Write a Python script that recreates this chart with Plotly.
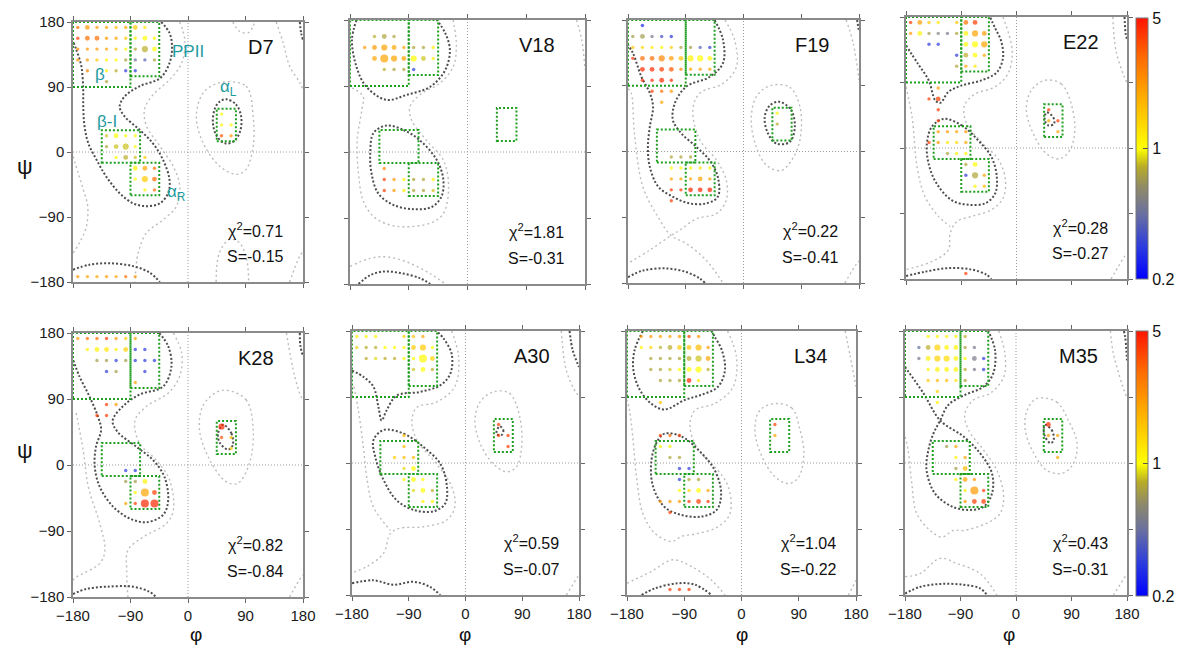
import math
import plotly.graph_objects as go

# ---------------- data ----------------
panel_names = ["D7", "V18", "F19", "E22", "K28", "A30", "L34", "M35"]
chi2_values = [0.71, 1.81, 0.22, 0.28, 0.82, 0.59, 1.04, 0.43]
s_values = [-0.15, -0.31, -0.41, -0.27, -0.84, -0.07, -0.22, -0.31]
angle_ticks = [-180, -90, 0, 90, 180]
cbar_labelled = [0.2, 1, 5]
cbar_minor = [0.3, 0.4, 0.5, 0.6, 0.7, 0.8, 0.9, 2, 3, 4]

# region boxes (phi_min, phi_max, psi_min, psi_max)
region_boxes = [(-180, -90, 90, 180), (-90, -45, 105, 180), (-135, -75, -15, 30),
                (-90, -45, -60, -15), (45, 75, 15, 60)]
region_labels = [("β", -138, 107), ("PPII", 0, 139), ("α<sub>L</sub>", 63, 89),
                 ("β-I", -127, 42), ("α<sub>R</sub>", -18, -57)]

# points: (phi, psi, ratio, size class)
D7_points = [
    (-172.5, 172.5, 3.0, 1), (-157.5, 172.5, 2.2, 2), (-142.5, 172.5, 2.2, 1), (-127.5, 172.5, 2.0, 1),
    (-112.5, 172.5, 1.7, 1), (-97.5, 172.5, 2.0, 1), (-82.5, 172.5, 1.5, 2), (-67.5, 172.5, 1.2, 1),
    (-172.5, 157.5, 4.0, 1), (-157.5, 157.5, 3.0, 2), (-142.5, 157.5, 3.0, 2), (-127.5, 157.5, 2.2, 1),
    (-112.5, 157.5, 2.0, 1), (-97.5, 157.5, 1.5, 1), (-82.5, 157.5, 1.1, 1), (-67.5, 157.5, 1.0, 2),
    (-52.5, 157.5, 1.0, 1),
    (-172.5, 142.5, 2.5, 1), (-157.5, 142.5, 2.2, 1), (-142.5, 142.5, 2.2, 1), (-127.5, 142.5, 2.0, 1),
    (-112.5, 142.5, 1.6, 1), (-97.5, 142.5, 1.1, 1), (-82.5, 142.5, 0.75, 1), (-67.5, 142.5, 0.8, 3),
    (-52.5, 142.5, 1.0, 2),
    (-172.5, 127.5, 2.2, 1), (-157.5, 127.5, 2.2, 1), (-142.5, 127.5, 1.5, 1), (-127.5, 127.5, 1.1, 1),
    (-112.5, 127.5, 1.0, 1), (-97.5, 127.5, 0.75, 1), (-82.5, 127.5, 0.45, 1), (-67.5, 127.5, 0.4, 1),
    (-52.5, 127.5, 0.75, 1),
    (-157.5, 112.5, 2.5, 1), (-127.5, 112.5, 1.1, 1), (-112.5, 112.5, 0.8, 1), (-97.5, 112.5, 0.3, 1),
    (-82.5, 112.5, 0.3, 1), (-127.5, 97.5, 0.75, 1),
    (-127.5, 22.5, 0.85, 1), (-112.5, 22.5, 1.0, 2), (-97.5, 22.5, 1.0, 1), (-82.5, 22.5, 1.0, 1),
    (-127.5, 7.5, 0.75, 1), (-112.5, 7.5, 0.85, 2), (-97.5, 7.5, 0.85, 3), (-82.5, 7.5, 1.0, 1),
    (-112.5, -7.5, 1.0, 1), (-97.5, -7.5, 0.8, 2), (-82.5, -7.5, 0.85, 1), (-67.5, -7.5, 1.5, 1),
    (-82.5, -22.5, 1.1, 2), (-67.5, -22.5, 2.0, 2), (-52.5, -22.5, 3.0, 1),
    (-82.5, -37.5, 1.0, 1), (-67.5, -37.5, 1.5, 3), (-52.5, -37.5, 3.0, 2),
    (-67.5, -52.5, 1.1, 1), (-52.5, -52.5, 3.0, 1),
    (52.5, 52.5, 1.0, 1), (52.5, 37.5, 1.1, 1), (67.5, 37.5, 1.1, 1), (52.5, 22.5, 3.5, 1), (67.5, 22.5, 2.2, 1),
    (-172.5, -172.5, 2.2, 1), (-157.5, -172.5, 2.0, 1), (-142.5, -172.5, 2.0, 1), (-127.5, -172.5, 2.2, 1),
    (-112.5, -172.5, 2.0, 1), (-97.5, -172.5, 3.0, 1), (-82.5, -172.5, 2.2, 1),
]
V18_points = [
    (-142.5, 157.5, 0.8, 1), (-127.5, 157.5, 0.75, 2), (-112.5, 157.5, 0.75, 1),
    (-157.5, 142.5, 2.2, 1), (-142.5, 142.5, 2.2, 2), (-127.5, 142.5, 2.0, 3), (-112.5, 142.5, 2.0, 2),
    (-97.5, 142.5, 2.0, 1), (-82.5, 142.5, 0.75, 1), (-67.5, 142.5, 0.75, 1), (-52.5, 142.5, 1.1, 1),
    (-142.5, 127.5, 2.0, 2), (-127.5, 127.5, 2.0, 4), (-112.5, 127.5, 2.0, 3), (-97.5, 127.5, 2.0, 2),
    (-82.5, 127.5, 1.0, 3), (-67.5, 127.5, 0.85, 2), (-52.5, 127.5, 1.1, 1),
    (-127.5, 112.5, 0.8, 1), (-112.5, 112.5, 0.75, 1), (-97.5, 112.5, 0.75, 1), (-82.5, 112.5, 0.3, 1),
    (-127.5, -22.5, 2.5, 1),
    (-127.5, -37.5, 4.0, 1), (-112.5, -37.5, 2.2, 1), (-97.5, -37.5, 1.1, 1), (-82.5, -37.5, 0.75, 1),
    (-67.5, -37.5, 0.75, 1), (-52.5, -37.5, 1.1, 1),
    (-127.5, -52.5, 4.0, 1), (-112.5, -52.5, 2.2, 1), (-97.5, -52.5, 1.2, 1), (-82.5, -52.5, 0.75, 1),
    (-67.5, -52.5, 0.75, 1), (-52.5, -52.5, 0.85, 1),
]
F19_points = [
    (-157.5, 172.5, 0.25, 1),
    (-172.5, 157.5, 0.7, 1), (-157.5, 157.5, 0.7, 2), (-142.5, 157.5, 0.5, 1), (-127.5, 157.5, 0.35, 1),
    (-112.5, 157.5, 0.28, 1),
    (-172.5, 142.5, 1.6, 1), (-157.5, 142.5, 1.4, 1), (-142.5, 142.5, 1.2, 1), (-127.5, 142.5, 1.1, 1),
    (-112.5, 142.5, 1.5, 1), (-97.5, 142.5, 0.75, 1), (-82.5, 142.5, 0.7, 1), (-67.5, 142.5, 0.4, 1),
    (-52.5, 142.5, 0.3, 1),
    (-172.5, 127.5, 4.0, 1), (-157.5, 127.5, 3.0, 2), (-142.5, 127.5, 3.0, 2), (-127.5, 127.5, 2.5, 3),
    (-112.5, 127.5, 2.2, 2), (-97.5, 127.5, 1.6, 2), (-82.5, 127.5, 1.1, 3), (-67.5, 127.5, 1.0, 3),
    (-52.5, 127.5, 1.1, 2),
    (-157.5, 112.5, 4.5, 2), (-142.5, 112.5, 4.5, 2), (-127.5, 112.5, 4.0, 2), (-112.5, 112.5, 3.5, 2),
    (-97.5, 112.5, 2.5, 1), (-82.5, 112.5, 2.0, 1), (-67.5, 112.5, 2.0, 1), (-52.5, 112.5, 2.0, 1),
    (-157.5, 97.5, 4.5, 1), (-142.5, 97.5, 4.5, 1), (-127.5, 97.5, 4.5, 2), (-112.5, 97.5, 4.5, 1),
    (-142.5, 82.5, 4.0, 1), (-127.5, 82.5, 3.0, 1), (-112.5, 82.5, 2.2, 1),
    (-127.5, 67.5, 2.0, 1),
    (52.5, 52.5, 1.1, 1), (52.5, 37.5, 0.8, 1),
    (-112.5, -7.5, 0.75, 1), (-97.5, -7.5, 0.75, 1), (-82.5, -7.5, 0.75, 1),
    (-112.5, -22.5, 1.0, 1), (-97.5, -22.5, 1.0, 1), (-82.5, -22.5, 1.1, 1), (-67.5, -22.5, 1.3, 1),
    (-52.5, -22.5, 1.1, 1),
    (-112.5, -37.5, 2.0, 1), (-97.5, -37.5, 2.0, 1), (-82.5, -37.5, 2.0, 1), (-67.5, -37.5, 2.0, 2),
    (-52.5, -37.5, 2.0, 1),
    (-112.5, -52.5, 4.0, 1), (-97.5, -52.5, 4.0, 1), (-82.5, -52.5, 4.5, 2), (-67.5, -52.5, 4.5, 2),
    (-52.5, -52.5, 4.5, 2),
    (-112.5, -67.5, 4.0, 1),
]
E22_points = [
    (-172.5, 172.5, 4.0, 1), (-157.5, 172.5, 2.2, 2), (-142.5, 172.5, 1.5, 1), (-127.5, 172.5, 1.2, 1),
    (-97.5, 172.5, 1.5, 1), (-82.5, 172.5, 3.0, 2), (-67.5, 172.5, 4.0, 2),
    (-172.5, 157.5, 2.2, 1), (-157.5, 157.5, 1.1, 2), (-142.5, 157.5, 0.7, 1), (-127.5, 157.5, 0.55, 1),
    (-112.5, 157.5, 0.5, 1), (-97.5, 157.5, 0.75, 1), (-82.5, 157.5, 1.1, 2), (-67.5, 157.5, 2.0, 3),
    (-52.5, 157.5, 2.2, 2),
    (-142.5, 142.5, 0.3, 1), (-127.5, 142.5, 0.3, 1), (-82.5, 142.5, 1.0, 2), (-67.5, 142.5, 1.0, 3),
    (-52.5, 142.5, 2.0, 3),
    (-97.5, 127.5, 0.3, 1), (-82.5, 127.5, 0.8, 2), (-67.5, 127.5, 1.0, 2), (-52.5, 127.5, 2.0, 1),
    (-97.5, 112.5, 0.75, 1), (-82.5, 112.5, 2.0, 1), (-67.5, 112.5, 1.2, 1),
    (-127.5, 82.5, 2.2, 1), (-142.5, 67.5, 4.0, 1), (-127.5, 67.5, 4.0, 2),
    (-127.5, 52.5, 4.0, 1), (-127.5, 37.5, 4.0, 1),
    (-127.5, 22.5, 2.2, 1), (-112.5, 22.5, 2.2, 1), (-97.5, 22.5, 2.0, 1), (-82.5, 22.5, 2.2, 1),
    (-142.5, 7.5, 4.0, 1), (-127.5, 7.5, 2.2, 1), (-112.5, 7.5, 1.2, 1), (-97.5, 7.5, 1.3, 1),
    (-82.5, 7.5, 2.0, 1),
    (-112.5, -7.5, 0.75, 1), (-97.5, -7.5, 1.1, 1), (-82.5, -7.5, 1.1, 1),
    (-82.5, -22.5, 0.75, 1), (-67.5, -22.5, 1.0, 2),
    (-82.5, -37.5, 0.3, 1), (-67.5, -37.5, 0.75, 3), (-52.5, -37.5, 2.0, 1),
    (-67.5, -52.5, 1.1, 1), (-52.5, -52.5, 1.7, 1),
    (-82.5, -172.5, 4.0, 1),
    (52.5, 52.5, 4.0, 1), (52.5, 37.5, 2.0, 1), (67.5, 37.5, 4.0, 1), (67.5, 22.5, 2.0, 1),
]
K28_points = [
    (-172.5, 172.5, 2.2, 1), (-157.5, 172.5, 3.0, 1), (-142.5, 172.5, 3.0, 1), (-127.5, 172.5, 4.0, 1),
    (-112.5, 172.5, 2.2, 1), (-97.5, 172.5, 1.5, 1), (-82.5, 172.5, 2.0, 1),
    (-157.5, 157.5, 1.1, 1), (-142.5, 157.5, 1.1, 2), (-127.5, 157.5, 1.2, 2), (-112.5, 157.5, 1.1, 1),
    (-97.5, 157.5, 1.4, 2), (-82.5, 157.5, 0.3, 1), (-67.5, 157.5, 0.3, 1),
    (-142.5, 142.5, 0.7, 1), (-127.5, 142.5, 0.7, 1), (-112.5, 142.5, 0.3, 1), (-97.5, 142.5, 0.7, 1),
    (-82.5, 142.5, 0.3, 1), (-67.5, 142.5, 0.3, 1), (-52.5, 142.5, 0.3, 1),
    (-127.5, 127.5, 0.3, 1), (-112.5, 127.5, 0.7, 1), (-67.5, 127.5, 0.3, 1),
    (-82.5, 112.5, 2.0, 1),
    (-127.5, 82.5, 4.0, 1), (-112.5, 82.5, 2.2, 1), (-142.5, 67.5, 4.0, 1), (-127.5, 67.5, 4.0, 1),
    (-97.5, -7.5, 0.3, 1), (-82.5, -7.5, 0.3, 1),
    (-97.5, -22.5, 0.7, 1), (-82.5, -22.5, 0.7, 1), (-67.5, -22.5, 1.1, 2),
    (-82.5, -37.5, 1.0, 1), (-67.5, -37.5, 2.0, 4), (-52.5, -37.5, 4.0, 2),
    (-97.5, -52.5, 2.0, 1), (-82.5, -52.5, 4.0, 1), (-67.5, -52.5, 4.5, 4), (-52.5, -52.5, 4.5, 4),
    (52.5, 52.5, 4.5, 3), (52.5, 37.5, 3.5, 1), (67.5, 37.5, 1.7, 1), (67.5, 22.5, 1.5, 1),
]
A30_points = [
    (-172.5, 172.5, 1.1, 1), (-157.5, 172.5, 1.1, 1), (-142.5, 172.5, 1.1, 1), (-97.5, 172.5, 1.4, 1),
    (-82.5, 172.5, 1.6, 1), (-67.5, 172.5, 2.0, 1),
    (-172.5, 157.5, 0.9, 1), (-157.5, 157.5, 0.8, 1), (-142.5, 157.5, 0.8, 1), (-127.5, 157.5, 1.0, 1),
    (-112.5, 157.5, 1.0, 1), (-97.5, 157.5, 1.0, 1), (-82.5, 157.5, 1.5, 2), (-67.5, 157.5, 1.5, 3),
    (-52.5, 157.5, 1.0, 1),
    (-157.5, 142.5, 0.8, 1), (-142.5, 142.5, 0.9, 1), (-127.5, 142.5, 0.8, 1), (-112.5, 142.5, 0.8, 1),
    (-97.5, 142.5, 1.0, 1), (-82.5, 142.5, 1.0, 1), (-67.5, 142.5, 1.05, 4), (-52.5, 142.5, 1.4, 2),
    (-82.5, 127.5, 0.85, 1), (-67.5, 127.5, 1.0, 2), (-52.5, 127.5, 0.8, 1),
    (-97.5, 37.5, 1.7, 1), (-97.5, 22.5, 1.7, 1),
    (-112.5, 7.5, 1.5, 1), (-97.5, 7.5, 1.7, 1), (-82.5, 7.5, 1.7, 1),
    (-97.5, -7.5, 0.9, 1), (-82.5, -7.5, 1.0, 2),
    (-97.5, -22.5, 1.1, 1), (-82.5, -22.5, 1.0, 2), (-67.5, -22.5, 1.0, 1),
    (-82.5, -37.5, 0.9, 1), (-67.5, -37.5, 1.0, 2), (-52.5, -37.5, 0.8, 1),
    (-67.5, -52.5, 1.1, 1), (-52.5, -52.5, 1.1, 1),
    (52.5, 52.5, 4.0, 1), (52.5, 37.5, 4.0, 1), (67.5, 37.5, 4.0, 1), (67.5, 22.5, 4.0, 1),
]
L34_points = [
    (-157.5, 172.5, 2.2, 1), (-142.5, 172.5, 2.2, 1), (-127.5, 172.5, 2.0, 1), (-112.5, 172.5, 2.0, 1),
    (-97.5, 172.5, 2.2, 1), (-82.5, 172.5, 4.0, 1), (-67.5, 172.5, 2.2, 1),
    (-157.5, 157.5, 1.1, 1), (-142.5, 157.5, 1.4, 1), (-127.5, 157.5, 0.8, 1), (-112.5, 157.5, 0.8, 2),
    (-97.5, 157.5, 1.5, 2), (-82.5, 157.5, 1.6, 2), (-67.5, 157.5, 1.7, 3), (-52.5, 157.5, 2.2, 1),
    (-142.5, 142.5, 0.75, 1), (-127.5, 142.5, 0.75, 1), (-112.5, 142.5, 0.75, 1), (-97.5, 142.5, 0.75, 1),
    (-82.5, 142.5, 0.8, 2), (-67.5, 142.5, 0.85, 3), (-52.5, 142.5, 2.0, 2),
    (-142.5, 127.5, 0.75, 1), (-127.5, 127.5, 0.75, 1), (-112.5, 127.5, 0.85, 1), (-97.5, 127.5, 1.0, 1),
    (-82.5, 127.5, 1.0, 2), (-67.5, 127.5, 1.0, 3), (-52.5, 127.5, 0.8, 1),
    (-127.5, 112.5, 0.75, 1), (-112.5, 112.5, 0.75, 1), (-97.5, 112.5, 0.75, 1), (-82.5, 112.5, 4.5, 2),
    (-67.5, 112.5, 1.2, 1),
    (-127.5, 82.5, 1.6, 1),
    (-127.5, 37.5, 4.0, 1), (-112.5, 37.5, 3.0, 1), (-97.5, 37.5, 4.0, 1),
    (-127.5, 22.5, 1.1, 1), (-112.5, 22.5, 1.1, 1),
    (-112.5, 7.5, 0.75, 1), (-97.5, 7.5, 0.75, 1),
    (-97.5, -7.5, 0.3, 1), (-82.5, -7.5, 0.3, 1),
    (-97.5, -22.5, 0.3, 1), (-82.5, -22.5, 0.75, 1), (-67.5, -22.5, 0.75, 1),
    (-97.5, -37.5, 1.0, 1), (-82.5, -37.5, 1.4, 1), (-67.5, -37.5, 1.0, 2), (-52.5, -37.5, 2.0, 1),
    (-127.5, -52.5, 2.2, 1), (-112.5, -52.5, 2.2, 1), (-97.5, -52.5, 2.2, 1), (-82.5, -52.5, 4.0, 1),
    (-67.5, -52.5, 4.0, 2), (-52.5, -52.5, 4.0, 1),
    (-112.5, -67.5, 4.0, 1),
    (-112.5, -172.5, 4.0, 1), (-97.5, -172.5, 4.0, 1), (-82.5, -172.5, 4.0, 1),
    (52.5, 52.5, 4.0, 1), (52.5, 37.5, 2.0, 1),
]
M35_points = [
    (-142.5, 172.5, 1.1, 1), (-127.5, 172.5, 1.1, 1), (-112.5, 172.5, 1.1, 1), (-97.5, 172.5, 1.1, 1),
    (-82.5, 172.5, 0.8, 1),
    (-157.5, 157.5, 0.45, 1), (-142.5, 157.5, 0.8, 2), (-127.5, 157.5, 1.4, 3), (-112.5, 157.5, 1.1, 2),
    (-97.5, 157.5, 1.1, 2), (-82.5, 157.5, 0.75, 1), (-67.5, 157.5, 0.5, 1),
    (-157.5, 142.5, 0.5, 1), (-142.5, 142.5, 1.1, 2), (-127.5, 142.5, 1.4, 3), (-112.5, 142.5, 1.3, 3),
    (-97.5, 142.5, 1.1, 2), (-82.5, 142.5, 1.0, 1), (-67.5, 142.5, 0.5, 2), (-52.5, 142.5, 0.3, 1),
    (-142.5, 127.5, 1.1, 1), (-127.5, 127.5, 1.1, 2), (-112.5, 127.5, 1.1, 2), (-97.5, 127.5, 1.1, 2),
    (-82.5, 127.5, 0.8, 1), (-67.5, 127.5, 0.5, 1), (-52.5, 127.5, 0.3, 1),
    (-142.5, 112.5, 1.5, 1), (-127.5, 112.5, 1.7, 1), (-112.5, 112.5, 1.7, 1), (-97.5, 112.5, 1.2, 1),
    (-82.5, 112.5, 0.75, 1),
    (-127.5, 97.5, 1.4, 1), (-127.5, 82.5, 1.1, 1),
    (-112.5, 22.5, 0.7, 1), (-97.5, 22.5, 2.0, 1),
    (-97.5, 7.5, 1.1, 1), (-82.5, 7.5, 2.0, 1),
    (-97.5, -7.5, 0.7, 1), (-82.5, -7.5, 1.7, 2),
    (-97.5, -22.5, 1.1, 1), (-82.5, -22.5, 2.0, 2), (-67.5, -22.5, 2.2, 1),
    (-82.5, -37.5, 1.1, 1), (-67.5, -37.5, 2.2, 4), (-52.5, -37.5, 4.0, 1),
    (-82.5, -52.5, 2.2, 1), (-67.5, -52.5, 4.0, 2), (-52.5, -52.5, 4.0, 2),
    (52.5, 52.5, 4.5, 2), (52.5, 37.5, 2.2, 1), (67.5, 37.5, 2.0, 1), (67.5, 7.5, 2.0, 1),
]

# contour paths (phi, psi)
D7_dark = [
    [(-42, 180), (-29, 165), (-25, 146), (-29, 123), (-44, 102), (-76, 91), (-99, 77), (-107, 63), (-99, 49),
     (-76, 31), (-55, 12), (-39, -11), (-29, -38), (-31, -57), (-44, -71), (-65, -75), (-86, -71), (-107, -57),
     (-128, -34), (-143, -11), (-156, 12), (-162, 36), (-164, 63), (-164, 86), (-167, 119), (-175, 142), (-180, 153)],
    [(60, 73), (75, 66), (83, 50), (82, 30), (72, 15), (58, 12), (45, 22), (39, 40), (42, 60), (50, 70), (60, 73)],
    [(-180, -163), (-154, -156), (-123, -154), (-86, -158), (-60, -167), (-44, -180)],
    [(175, 180), (177, 165), (180, 155)],
]
D7_light = [
    [(-13, 180), (-5, 155), (-10, 123), (-29, 100), (-55, 79), (-68, 59), (-65, 36), (-44, 8), (-23, -20),
     (-13, -47), (-18, -75), (-39, -94), (-65, -112), (-78, -140), (-83, -180)],
    [(-180, -6), (-172, -29), (-164, -52), (-157, -75), (-159, -103), (-170, -126), (-180, -140)],
    [(50, 96), (91, 91), (102, 49), (102, 8), (91, -24), (76, -31), (50, -20), (24, 12), (13, 49), (24, 82), (50, 96)],
    [(70, 180), (81, 167), (94, 165), (102, 174), (104, 180)],
    [(138, 180), (149, 151), (159, 119), (175, 96), (180, 86)],
    [(44, -180), (49, -140), (65, -121), (81, -126), (92, -150), (95, -180)],
    [(159, -180), (175, -144), (180, -138)],
]
V18_dark = [
    [(-170, 180), (-177, 153), (-170, 116), (-155, 89), (-124, 71), (-93, 78), (-57, 89), (-34, 112), (-27, 139),
     (-34, 162), (-47, 180)],
    [(-124, 36), (-98, 30), (-73, 16), (-47, -11), (-37, -38), (-40, -61), (-55, -75), (-83, -78), (-114, -72),
     (-137, -56), (-147, -29), (-149, -1), (-144, 26), (-124, 36)],
    [(-167, -180), (-149, -168), (-129, -163), (-103, -165), (-73, -172), (-57, -180)],
]
V18_light = [
    [(-22, 180), (-17, 144), (-22, 116), (-42, 94), (-73, 78), (-88, 62), (-86, 44), (-63, 16), (-37, -11),
     (-29, -47), (-37, -84), (-57, -97), (-98, -102), (-124, -98), (-144, -88), (-160, -66), (-167, -29),
     (-169, 16), (-162, 57), (-160, 76), (-180, 89)],
    [(-180, -156), (-149, -145), (-124, -143), (-93, -150), (-57, -166), (-34, -180)],
    [(167, 180), (175, 153), (180, 112)],
]
F19_dark = [
    [(-45, 180), (-32, 153), (-32, 121), (-53, 102), (-89, 89), (-107, 66), (-110, 43), (-97, 25), (-73, 6),
     (-53, -12), (-40, -35), (-40, -62), (-58, -71), (-84, -71), (-110, -62), (-133, -48), (-146, -21),
     (-149, 6), (-146, 34), (-141, 61), (-146, 80), (-159, 102), (-172, 134), (-180, 146)],
    [(56, 68), (74, 57), (80, 34), (72, 13), (51, 11), (38, 25), (33, 47), (41, 63), (56, 68)],
    [(-180, -172), (-157, -163), (-120, -160), (-89, -165), (-68, -174), (-60, -180)],
    [(177, 180), (180, 165)],
]
F19_light = [
    [(-29, 180), (-14, 153), (-11, 116), (-32, 93), (-68, 80), (-79, 57), (-68, 16), (-42, -12), (-27, -39),
     (-27, -67), (-42, -85), (-73, -92), (-100, -108), (-113, -115), (-146, -135), (-180, -153)],
    [(-180, 86), (-175, 80), (-170, 25), (-157, -48), (-133, -90), (-113, -115), (-89, -126), (-58, -149),
     (-32, -180)],
    [(41, 90), (72, 88), (88, 61), (88, 16), (75, -12), (59, -26), (36, -19), (20, 6), (12, 43), (20, 75), (41, 90)],
    [(160, 180), (171, 148), (180, 98)],
    [(158, -180), (176, -154), (180, -150)],
]
E22_dark = [
    [(-180, 141), (-160, 115), (-143, 93), (-132, 65), (-124, 62), (-111, 77), (-89, 86), (-57, 93), (-32, 104),
     (-22, 124), (-25, 147), (-35, 165), (-43, 180)],
    [(-119, 40), (-89, 31), (-62, 10), (-41, -12), (-32, -40), (-35, -63), (-51, -76), (-78, -78), (-105, -72),
     (-130, -49), (-143, -22), (-146, 6), (-138, 29), (-119, 40)],
    [(49, 49), (60, 42), (61, 33), (52, 31), (46, 38), (49, 49)],
    [(-180, -176), (-149, -170), (-111, -165), (-73, -167), (-49, -174), (-41, -180)],
    [(176, 180), (178, 156), (180, 150)],
]
E22_light = [
    [(-22, 180), (-7, 134), (-14, 102), (-35, 84), (-68, 74), (-85, 58), (-81, 33), (-57, 8), (-30, -15),
     (-18, -44), (-22, -69), (-41, -85), (-73, -94), (-97, -101), (-108, -117), (-111, -140), (-138, -156),
     (-180, -167)],
    [(-180, 84), (-170, 42), (-162, -26), (-149, -67), (-127, -94), (-108, -108)],
    [(46, 93), (73, 88), (89, 61), (95, 24), (87, -3), (70, -15), (49, -8), (30, 15), (16, 52), (24, 79), (46, 93)],
    [(157, 180), (162, 134), (176, 97), (180, 90)],
    [(154, -180), (176, -149), (180, -145)],
]
K28_dark = [
    [(-45, 180), (-31, 162), (-26, 134), (-39, 107), (-76, 96), (-102, 80), (-118, 60), (-110, 45), (-81, 25),
     (-55, 7), (-37, -16), (-31, -48), (-39, -68), (-65, -78), (-91, -73), (-117, -57), (-138, -30), (-146, -2),
     (-144, 25), (-136, 48), (-141, 66), (-154, 93), (-170, 121), (-180, 144)],
    [(55, 55), (68, 43), (70, 27), (63, 21), (50, 30), (47, 43), (55, 55)],
    [(-180, -176), (-159, -169), (-128, -166), (-86, -166), (-60, -173), (-50, -180)],
    [(175, 180), (176, 162), (180, 148)],
]
K28_light = [
    [(-23, 180), (-10, 153), (-13, 121), (-31, 98), (-65, 80), (-83, 61), (-76, 30), (-50, 7), (-29, -20),
     (-23, -62), (-34, -80), (-70, -98), (-94, -116), (-96, -144), (-94, -180)],
    [(-175, 71), (-164, 20), (-156, -30), (-138, -80), (-130, -116), (-138, -134), (-175, -153), (-180, -157)],
    [(60, 102), (91, 89), (102, 48), (96, 2), (78, -25), (60, -23), (34, 7), (18, 48), (23, 80), (42, 98), (60, 102)],
    [(154, 180), (167, 121), (177, 93), (180, 89)],
    [(159, -180), (177, -153), (180, -150)],
]
A30_dark = [
    [(-180, 126), (-161, 117), (-146, 104), (-138, 76), (-133, 58), (-125, 72), (-109, 92), (-72, 97), (-40, 106),
     (-24, 122), (-22, 149), (-35, 170), (-46, 180)],
    [(-130, 45), (-98, 40), (-67, 22), (-40, -1), (-30, -28), (-32, -55), (-51, -66), (-82, -64), (-109, -51),
     (-130, -23), (-143, 8), (-146, 31), (-130, 45)],
    [(54, 50), (60, 45), (57, 38), (49, 40), (54, 50)],
    [(-180, -164), (-146, -160), (-114, -166), (-82, -162), (-56, -169), (-40, -180)],
    [(165, 180), (170, 154), (178, 135), (180, 131)],
]
A30_light = [
    [(-22, 180), (-11, 145), (-17, 104), (-46, 83), (-77, 76), (-85, 58), (-77, 31), (-46, -1), (-22, -32),
     (-17, -60), (-30, -78), (-67, -87), (-104, -89), (-119, -96), (-130, -123), (-156, -141), (-180, -150)],
    [(-177, 104), (-170, 72), (-162, 22), (-156, -23), (-146, -60), (-119, -92)],
    [(44, 97), (70, 95), (86, 63), (89, 22), (81, -5), (65, -12), (44, -1), (23, 27), (15, 58), (23, 83), (44, 97)],
    [(152, 180), (160, 126), (176, 95), (180, 92)],
    [(160, -180), (178, -155), (180, -153)],
]
L34_dark = [
    [(-155, 180), (-168, 154), (-170, 127), (-160, 100), (-142, 81), (-121, 73), (-89, 86), (-63, 93),
     (-37, 104), (-26, 127), (-31, 154), (-42, 172), (-47, 180)],
    [(-121, 40), (-94, 36), (-68, 18), (-42, -10), (-32, -41), (-39, -64), (-63, -73), (-94, -71), (-121, -60),
     (-139, -32), (-142, 0), (-134, 27), (-121, 40)],
    [(-157, -180), (-136, -171), (-100, -164), (-73, -166), (-47, -180)],
]
L34_light = [
    [(-22, 180), (-8, 145), (-13, 104), (-42, 81), (-73, 72), (-81, 50), (-68, 18), (-42, -5), (-21, -32),
     (-18, -69), (-37, -87), (-68, -96), (-94, -100), (-110, -107), (-136, -96), (-155, -69), (-165, -19),
     (-171, 36), (-176, 72), (-180, 86)],
    [(-180, -164), (-142, -148), (-108, -132), (-79, -141), (-47, -160), (-26, -180)],
    [(53, 81), (79, 75), (92, 45), (98, 13), (90, -19), (74, -28), (53, -19), (32, 9), (21, 45), (29, 72), (53, 81)],
    [(163, 180), (171, 145), (180, 104)],
    [(168, -180), (180, -160)],
]
M35_dark = [
    [(-180, 131), (-150, 95), (-123, 58), (-85, 36), (-58, 13), (-39, -14), (-39, -42), (-53, -60), (-74, -64),
     (-102, -60), (-131, -42), (-145, -10), (-142, 18), (-134, 40), (-123, 58), (-110, 79), (-85, 92),
     (-53, 104), (-37, 122), (-34, 154), (-45, 180)],
    [(47, 52), (58, 45), (61, 31), (56, 27), (47, 36), (45, 47), (47, 52)],
    [(-180, -178), (-156, -169), (-123, -165), (-85, -166), (-58, -171), (-47, -180)],
    [(175, 180), (177, 172), (179, 154), (180, 140)],
]
M35_light = [
    [(-28, 180), (-18, 149), (-20, 117), (-42, 95), (-69, 86), (-83, 67), (-77, 45), (-53, 18), (-31, -10),
     (-20, -46), (-26, -69), (-47, -82), (-85, -92), (-102, -92), (-120, -101), (-139, -92), (-161, -69),
     (-169, -28), (-175, 18), (-180, 36)],
    [(-180, -155), (-156, -151), (-123, -130), (-96, -137), (-58, -151), (-31, -180)],
    [(34, 88), (66, 83), (85, 58), (99, 27), (93, -1), (75, -14), (50, -10), (29, 13), (15, 45), (18, 72), (34, 88)],
    [(153, 180), (158, 149), (177, 95), (180, 90)],
    [(158, -180), (180, -151)],
]

panel_points = [D7_points, V18_points, F19_points, E22_points, K28_points, A30_points, L34_points, M35_points]
panel_dark = [D7_dark, V18_dark, F19_dark, E22_dark, K28_dark, A30_dark, L34_dark, M35_dark]
panel_light = [D7_light, V18_light, F19_light, E22_light, K28_light, A30_light, L34_light, M35_light]

# ---------------- layout / style ----------------
W, H = 1179, 648
PANEL_PX = [(73, 303, 22, 282), (350, 585, 20, 284), (628, 859, 20, 283), (906, 1127, 17, 279),
            (73, 303, 333, 597), (352, 579, 331, 595), (627, 856, 331, 595), (905, 1127, 331, 595)]
CBAR_X = (1136, 1148)
CBAR_PX = [(18, 279), (331, 596)]
FONT = "Liberation Sans, Arial, Helvetica, sans-serif"
TEAL = "#1e9aa0"
GREEN = "#1f9f1f"
SIZE_PX = {1: 3.4, 2: 4.8, 3: 6.2, 4: 8.0}
LMIN, LMAX = math.log10(0.2), math.log10(5)
COLORSCALE = [[0.0, "#0000ff"], [0.12, "#2a3ae0"], [0.25, "#6a70a0"], [0.35, "#8f8a68"],
              [0.43, "#b8ac28"], [0.5, "#ffff00"], [0.7, "#ffab00"], [0.85, "#ff6a00"], [1.0, "#ff1400"]]

fig = go.Figure()
layout = dict(width=W, height=H, margin=dict(l=0, r=0, t=0, b=0, pad=0, autoexpand=False),
              paper_bgcolor="white", plot_bgcolor="white", showlegend=False,
              font=dict(family=FONT, color="#111"))
shapes, annotations = [], []

for i in range(8):
    sfx = "" if i == 0 else str(i + 1)
    xr, yr = "x" + sfx, "y" + sfx
    x0, x1, y0, y1 = PANEL_PX[i]
    axis_common = dict(range=[-180, 180], tickvals=angle_ticks, ticks="outside", ticklen=4, tickwidth=1,
                       tickcolor="#666", linecolor="#8a8a8a", linewidth=1.5, mirror="allticks",
                       showgrid=False, zeroline=False, fixedrange=True, automargin=False,
                       tickfont=dict(size=15, color="#1a1a1a", family=FONT))
    layout["xaxis" + sfx] = dict(axis_common, domain=[x0 / W, x1 / W], anchor=yr, showticklabels=(i >= 4))
    layout["yaxis" + sfx] = dict(axis_common, domain=[1 - y1 / H, 1 - y0 / H], anchor=xr,
                                 showticklabels=(i % 4 == 0))

    for path in panel_light[i]:
        fig.add_trace(go.Scatter(x=[p[0] for p in path], y=[p[1] for p in path], mode="lines",
                                 line=dict(color="#bcbcbc", width=1.4, dash="2px,3px", shape="spline",
                                           smoothing=1.0),
                                 xaxis=xr, yaxis=yr, hoverinfo="skip", cliponaxis=True))
    for path in panel_dark[i]:
        fig.add_trace(go.Scatter(x=[p[0] for p in path], y=[p[1] for p in path], mode="lines",
                                 line=dict(color="#4d4d4d", width=2.0, dash="2px,2px", shape="spline",
                                           smoothing=1.0),
                                 xaxis=xr, yaxis=yr, hoverinfo="skip", cliponaxis=True))

    pts = panel_points[i]
    marker = dict(color=[math.log10(p[2]) for p in pts], size=[SIZE_PX[p[3]] for p in pts],
                  cmin=LMIN, cmax=LMAX, colorscale=COLORSCALE, line=dict(width=0))
    if i in (3, 7):
        cy0, cy1 = CBAR_PX[0 if i == 3 else 1]
        marker["showscale"] = True
        marker["colorbar"] = dict(
            x=CBAR_X[0] / W, xanchor="left", xpad=0, ypad=0,
            y=1 - (cy0 + cy1) / 2 / H, yanchor="middle", len=(cy1 - cy0) / H, lenmode="fraction",
            thickness=CBAR_X[1] - CBAR_X[0], thicknessmode="pixels", outlinecolor="#777", outlinewidth=1,
            tickvals=[math.log10(v) for v in cbar_labelled],
            ticktext=[("%g" % v) for v in cbar_labelled],
            ticks="inside", ticklen=5, tickcolor="#555", tickfont=dict(size=16, color="#111", family=FONT))
        # minor tick marks on the colour bar, placed on its log scale
        for v in cbar_minor:
            frac = (math.log10(v) - LMIN) / (LMAX - LMIN)
            yp = (1 - cy1 / H) + frac * (cy1 - cy0) / H
            shapes.append(dict(type="line", xref="paper", yref="paper", x0=(CBAR_X[1] - 5) / W,
                               x1=CBAR_X[1] / W, y0=yp, y1=yp, layer="above",
                               line=dict(color="#555", width=1)))
    fig.add_trace(go.Scatter(x=[p[0] for p in pts], y=[p[1] for p in pts], mode="markers", marker=marker,
                             xaxis=xr, yaxis=yr, hoverinfo="skip"))

    # crosshair lines at phi=0 and psi=0
    shapes.append(dict(type="line", xref=xr, yref=yr, x0=0, x1=0, y0=-180, y1=180, layer="below",
                       line=dict(color="#9a9a9a", width=1, dash="1px,2px")))
    shapes.append(dict(type="line", xref=xr, yref=yr, x0=-180, x1=180, y0=0, y1=0, layer="below",
                       line=dict(color="#9a9a9a", width=1, dash="1px,2px")))
    for (a, b, c, d) in region_boxes:
        shapes.append(dict(type="rect", xref=xr, yref=yr, x0=a, x1=b, y0=c, y1=d, layer="above",
                           line=dict(color=GREEN, width=2, dash="2px,2px")))

    annotations.append(dict(xref=xr, yref=yr, x=137, y=146, text=panel_names[i], showarrow=False,
                            xanchor="right", yanchor="middle", font=dict(size=20, color="#111", family=FONT)))
    annotations.append(dict(xref=xr, yref=yr, x=105, y=-108, text="χ<sup>2</sup>=%.2f" % chi2_values[i],
                            showarrow=False, xanchor="center", yanchor="middle",
                            font=dict(size=16, color="#111", family=FONT)))
    annotations.append(dict(xref=xr, yref=yr, x=105, y=-145, text="S=%.2f" % s_values[i],
                            showarrow=False, xanchor="center", yanchor="middle",
                            font=dict(size=16, color="#111", family=FONT)))

# region labels in the first panel
for txt, lx, ly in region_labels:
    annotations.append(dict(xref="x", yref="y", x=lx, y=ly, text=txt, showarrow=False,
                            font=dict(size=17, color=TEAL, family=FONT)))

# axis symbols
for yc in (152, 465):
    annotations.append(dict(xref="paper", yref="paper", x=15 / W, y=1 - yc / H, text="ψ", showarrow=False,
                            font=dict(size=22, color="#111", family=FONT)))
for xc in (188, 465, 742, 1017):
    annotations.append(dict(xref="paper", yref="paper", x=xc / W, y=1.5 / H, text="φ", showarrow=False,
                            yanchor="bottom", font=dict(size=19, color="#111", family=FONT)))

layout["shapes"] = shapes
layout["annotations"] = annotations
fig.update_layout(**layout)
fig.write_html("out.html", config={"displayModeBar": False},
               post_script="document.body.style.margin='0px';document.body.style.padding='0px';")
